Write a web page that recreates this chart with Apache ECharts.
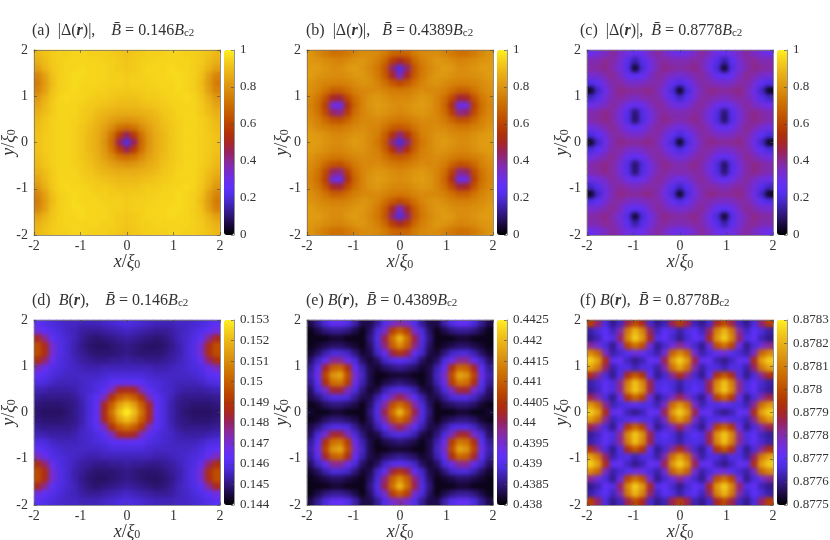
<!DOCTYPE html>
<html>
<head>
<meta charset="utf-8">
<style>html,body{margin:0;padding:0;background:#fff}#chart{width:830px;height:540px}</style>
<script src="https://cdn.jsdelivr.net/npm/echarts@6/dist/echarts.min.js"></script>
</head>
<body>
<div id="chart"></div>
<script>
// cell centres run from -1.92 to 1.92 in steps of 0.16, rows are listed top (y = 1.92) to bottom
const cellLabels = [-1.92,-1.76,-1.6,-1.44,-1.28,-1.12,-0.96,-0.8,-0.64,-0.48,-0.32,-0.16,0,0.16,0.32,0.48,0.64,0.8,0.96,1.12,1.28,1.44,1.6,1.76,1.92]

// |Delta| in units of 0.01
const gapA = [
[89,91,93,94,94,95,95,94,94,94,93,92,91,92,93,94,94,94,95,95,94,94,93,91,89],
[87,90,93,94,95,95,95,95,95,94,94,93,92,93,94,94,95,95,95,95,95,94,93,90,87],
[83,88,92,94,95,95,96,95,95,95,94,93,92,93,94,95,95,95,96,95,95,94,92,88,83],
[76,83,91,94,95,96,96,95,95,95,94,94,93,94,94,95,95,95,96,96,95,94,91,83,76],
[74,82,90,94,95,96,95,95,95,94,94,94,93,94,94,94,95,95,95,96,95,94,90,82,74],
[76,83,91,94,95,96,95,95,94,94,93,93,92,93,93,94,94,95,95,96,95,94,91,83,76],
[81,87,92,95,96,95,95,94,93,93,92,91,91,91,92,93,93,94,95,95,96,95,92,87,81],
[84,89,93,95,95,95,94,93,92,91,90,89,89,89,90,91,92,93,94,95,95,95,93,89,84],
[87,90,93,95,95,95,93,92,90,88,87,86,86,86,87,88,90,92,93,95,95,95,93,90,87],
[89,92,94,95,95,94,93,91,88,86,83,81,80,81,83,86,88,91,93,94,95,95,94,92,89],
[90,92,94,95,95,94,92,90,87,83,78,72,70,72,78,83,87,90,92,94,95,95,94,92,90],
[91,93,94,95,95,94,92,89,86,81,72,58,45,58,72,81,86,89,92,94,95,95,94,93,91],
[91,93,94,95,95,94,92,89,86,80,70,45,22,45,70,80,86,89,92,94,95,95,94,93,91],
[91,93,94,95,95,94,92,89,86,81,72,58,45,58,72,81,86,89,92,94,95,95,94,93,91],
[90,92,94,95,95,94,92,90,87,83,78,72,70,72,78,83,87,90,92,94,95,95,94,92,90],
[89,92,94,95,95,94,93,91,88,86,83,81,80,81,83,86,88,91,93,94,95,95,94,92,89],
[87,90,93,95,95,95,93,92,90,88,87,86,86,86,87,88,90,92,93,95,95,95,93,90,87],
[84,89,93,95,95,95,94,93,92,91,90,89,89,89,90,91,92,93,94,95,95,95,93,89,84],
[81,87,92,95,96,95,95,94,93,93,92,91,91,91,92,93,93,94,95,95,96,95,92,87,81],
[76,83,91,94,95,96,95,95,94,94,93,93,92,93,93,94,94,95,95,96,95,94,91,83,76],
[74,82,90,94,95,96,95,95,95,94,94,94,93,94,94,94,95,95,95,96,95,94,90,82,74],
[76,83,91,94,95,96,96,95,95,95,94,94,93,94,94,95,95,95,96,96,95,94,91,83,76],
[83,88,92,94,95,95,96,95,95,95,94,93,92,93,94,95,95,95,96,95,95,94,92,88,83],
[87,90,93,94,95,95,95,95,95,94,94,93,92,93,94,94,95,95,95,95,95,94,93,90,87],
[89,91,93,94,94,95,95,94,94,94,93,92,91,92,93,94,94,94,95,95,94,94,93,91,89]
]
const gapB = [
[80,77,74,71,71,73,76,78,78,77,74,69,68,69,74,77,78,78,76,73,71,71,74,77,80],
[81,80,78,77,76,78,80,81,78,75,69,58,50,58,69,75,78,81,80,78,76,77,78,80,81],
[82,82,80,78,78,81,82,80,77,73,65,43,22,43,65,73,77,80,82,81,78,78,80,82,82],
[82,80,79,78,78,79,81,81,78,74,66,50,34,50,66,74,78,81,81,79,78,78,79,80,82],
[80,78,76,75,75,76,78,80,79,76,71,65,61,65,71,76,79,80,78,76,75,75,76,78,80],
[79,76,72,67,67,71,75,77,77,78,76,74,73,74,76,78,77,77,75,71,67,67,72,76,79],
[77,73,64,50,48,62,71,76,80,81,79,77,77,77,79,81,80,76,71,62,48,50,64,73,77],
[76,71,59,31,28,54,69,76,80,82,81,79,78,79,81,82,80,76,69,54,28,31,59,71,76],
[77,72,62,44,41,59,71,76,79,81,80,78,77,78,80,81,79,76,71,59,41,44,62,72,77],
[78,75,69,64,63,68,74,77,77,78,76,74,73,74,76,78,77,77,74,68,63,64,69,75,78],
[80,77,75,73,73,75,77,78,77,76,72,67,65,67,72,76,77,78,77,75,73,73,75,77,80],
[82,81,79,77,77,78,80,80,77,75,67,55,42,55,67,75,77,80,80,78,77,77,79,81,82],
[82,82,80,78,78,80,82,80,77,73,65,42,20,42,65,73,77,80,82,80,78,78,80,82,82],
[82,81,79,77,77,78,80,80,77,75,67,55,42,55,67,75,77,80,80,78,77,77,79,81,82],
[80,77,75,73,73,75,77,78,77,76,72,67,65,67,72,76,77,78,77,75,73,73,75,77,80],
[78,75,69,64,63,68,74,77,77,78,76,74,73,74,76,78,77,77,74,68,63,64,69,75,78],
[77,72,62,44,41,59,71,76,79,81,80,78,77,78,80,81,79,76,71,59,41,44,62,72,77],
[76,71,59,31,28,54,69,76,80,82,81,79,78,79,81,82,80,76,69,54,28,31,59,71,76],
[77,73,64,50,48,62,71,76,80,81,79,77,77,77,79,81,80,76,71,62,48,50,64,73,77],
[79,76,72,67,67,71,75,77,77,78,76,74,73,74,76,78,77,77,75,71,67,67,72,76,79],
[80,78,76,75,75,76,78,80,79,76,71,65,61,65,71,76,79,80,78,76,75,75,76,78,80],
[82,80,79,78,78,79,81,81,78,74,66,50,34,50,66,74,78,81,81,79,78,78,79,80,82],
[82,82,80,78,78,81,82,80,77,73,65,43,22,43,65,73,77,80,82,81,78,78,80,82,82],
[81,80,78,77,76,78,80,81,78,75,69,58,50,58,69,75,78,81,80,78,76,77,78,80,81],
[80,77,74,71,71,73,76,78,78,77,74,69,68,69,74,77,78,78,76,73,71,71,74,77,80]
]
const gapC = [
[29,32,35,39,35,31,28,30,35,39,35,31,29,31,35,39,35,30,28,31,35,39,35,32,29],
[37,37,40,38,33,24,15,23,31,37,39,37,37,37,39,37,31,23,15,24,33,38,40,37,37],
[38,39,41,37,32,22,4,20,30,37,41,39,38,39,41,37,30,20,4,22,32,37,41,39,38],
[33,34,37,40,35,28,25,27,34,39,37,34,33,34,37,39,34,27,25,28,35,40,37,34,33],
[22,26,33,38,38,35,34,35,37,38,34,27,22,27,34,38,37,35,34,35,38,38,33,26,22],
[3,18,30,37,41,40,39,40,41,37,31,20,3,20,31,37,41,40,39,40,41,37,30,18,3],
[18,23,32,37,39,37,35,37,38,38,33,24,18,24,33,38,38,37,35,37,39,37,32,23,18],
[30,32,35,39,35,30,27,29,35,39,37,32,30,32,37,39,35,29,27,30,35,39,35,32,30],
[37,38,41,38,32,23,10,22,31,37,39,37,37,37,39,37,31,22,10,23,32,38,41,38,37],
[37,39,41,38,32,22,9,21,31,37,41,38,37,38,41,37,31,21,9,22,32,38,41,39,37],
[31,33,37,40,35,29,26,29,35,39,37,33,31,33,37,39,35,29,26,29,35,40,37,33,31],
[20,25,32,38,38,35,34,35,38,38,33,26,20,26,33,38,38,35,34,35,38,38,32,25,20],
[3,18,30,37,41,40,39,40,41,37,31,20,3,20,31,37,41,40,39,40,41,37,30,18,3],
[20,25,32,38,38,35,34,35,38,38,33,26,20,26,33,38,38,35,34,35,38,38,32,25,20],
[31,33,37,40,35,29,26,29,35,39,37,33,31,33,37,39,35,29,26,29,35,40,37,33,31],
[37,39,41,38,32,22,9,21,31,37,41,38,37,38,41,37,31,21,9,22,32,38,41,39,37],
[37,38,41,38,32,23,10,22,31,37,39,37,37,37,39,37,31,22,10,23,32,38,41,38,37],
[30,32,35,39,35,30,27,29,35,39,37,32,30,32,37,39,35,29,27,30,35,39,35,32,30],
[18,23,32,37,39,37,35,37,38,38,33,24,18,24,33,38,38,37,35,37,39,37,32,23,18],
[3,18,30,37,41,40,39,40,41,37,31,20,3,20,31,37,41,40,39,40,41,37,30,18,3],
[22,26,33,38,38,35,34,35,37,38,34,27,22,27,34,38,37,35,34,35,38,38,33,26,22],
[33,34,37,40,35,28,25,27,34,39,37,34,33,34,37,39,34,27,25,28,35,40,37,34,33],
[38,39,41,37,32,22,4,20,30,37,41,39,38,39,41,37,30,20,4,22,32,37,41,39,38],
[37,37,40,38,33,24,15,23,31,37,39,37,37,37,39,37,31,23,15,24,33,38,40,37,37],
[29,32,35,39,35,31,28,30,35,39,35,31,29,31,35,39,35,30,28,31,35,39,35,32,29]
]

// B in units of 0.0001
const fieldD = [
[1462,1460,1458,1457,1456,1456,1455,1455,1455,1456,1457,1458,1459,1458,1457,1456,1455,1455,1455,1456,1456,1457,1458,1460,1462],
[1468,1463,1460,1458,1456,1455,1453,1452,1452,1453,1454,1455,1456,1455,1454,1453,1452,1452,1453,1455,1456,1458,1460,1463,1468],
[1486,1476,1463,1459,1457,1455,1452,1450,1449,1450,1451,1452,1453,1452,1451,1450,1449,1450,1452,1455,1457,1459,1463,1476,1486],
[1496,1487,1470,1460,1457,1454,1451,1449,1448,1448,1449,1450,1451,1450,1449,1448,1448,1449,1451,1454,1457,1460,1470,1487,1496],
[1496,1488,1470,1460,1457,1454,1452,1450,1449,1449,1449,1450,1451,1450,1449,1449,1449,1450,1452,1454,1457,1460,1470,1488,1496],
[1488,1479,1465,1459,1457,1455,1453,1452,1451,1451,1452,1452,1453,1452,1452,1451,1451,1452,1453,1455,1457,1459,1465,1479,1488],
[1472,1465,1460,1458,1457,1456,1455,1454,1454,1455,1455,1455,1455,1455,1455,1455,1454,1454,1455,1456,1457,1458,1460,1465,1472],
[1463,1461,1458,1457,1456,1456,1456,1456,1456,1457,1458,1458,1458,1458,1458,1457,1456,1456,1456,1456,1456,1457,1458,1461,1463],
[1459,1458,1456,1455,1455,1455,1456,1457,1458,1459,1462,1463,1464,1463,1462,1459,1458,1457,1456,1455,1455,1455,1456,1458,1459],
[1455,1454,1453,1453,1453,1454,1456,1457,1459,1462,1472,1485,1487,1485,1472,1462,1459,1457,1456,1454,1453,1453,1453,1454,1455],
[1452,1451,1451,1451,1451,1452,1455,1458,1462,1472,1490,1500,1505,1500,1490,1472,1462,1458,1455,1452,1451,1451,1451,1451,1452],
[1450,1449,1449,1449,1450,1451,1454,1458,1463,1485,1500,1515,1522,1515,1500,1485,1463,1458,1454,1451,1450,1449,1449,1449,1450],
[1449,1448,1448,1448,1449,1451,1454,1458,1464,1487,1505,1522,1530,1522,1505,1487,1464,1458,1454,1451,1449,1448,1448,1448,1449],
[1450,1449,1449,1449,1450,1451,1454,1458,1463,1485,1500,1515,1522,1515,1500,1485,1463,1458,1454,1451,1450,1449,1449,1449,1450],
[1452,1451,1451,1451,1451,1452,1455,1458,1462,1472,1490,1500,1505,1500,1490,1472,1462,1458,1455,1452,1451,1451,1451,1451,1452],
[1455,1454,1453,1453,1453,1454,1456,1457,1459,1462,1472,1485,1487,1485,1472,1462,1459,1457,1456,1454,1453,1453,1453,1454,1455],
[1459,1458,1456,1455,1455,1455,1456,1457,1458,1459,1462,1463,1464,1463,1462,1459,1458,1457,1456,1455,1455,1455,1456,1458,1459],
[1463,1461,1458,1457,1456,1456,1456,1456,1456,1457,1458,1458,1458,1458,1458,1457,1456,1456,1456,1456,1456,1457,1458,1461,1463],
[1472,1465,1460,1458,1457,1456,1455,1454,1454,1455,1455,1455,1455,1455,1455,1455,1454,1454,1455,1456,1457,1458,1460,1465,1472],
[1488,1479,1465,1459,1457,1455,1453,1452,1451,1451,1452,1452,1453,1452,1452,1451,1451,1452,1453,1455,1457,1459,1465,1479,1488],
[1496,1488,1470,1460,1457,1454,1452,1450,1449,1449,1449,1450,1451,1450,1449,1449,1449,1450,1452,1454,1457,1460,1470,1488,1496],
[1496,1487,1470,1460,1457,1454,1451,1449,1448,1448,1449,1450,1451,1450,1449,1448,1448,1449,1451,1454,1457,1460,1470,1487,1496],
[1486,1476,1463,1459,1457,1455,1452,1450,1449,1450,1451,1452,1453,1452,1451,1450,1449,1450,1452,1455,1457,1459,1463,1476,1486],
[1468,1463,1460,1458,1456,1455,1453,1452,1452,1453,1454,1455,1456,1455,1454,1453,1452,1452,1453,1455,1456,1458,1460,1463,1468],
[1462,1460,1458,1457,1456,1456,1455,1455,1455,1456,1457,1458,1459,1458,1457,1456,1455,1455,1455,1456,1456,1457,1458,1460,1462]
]
const fieldE = [
[4383,4386,4389,4392,4392,4390,4387,4383,4383,4386,4390,4395,4397,4395,4390,4386,4383,4383,4387,4390,4392,4392,4389,4386,4383],
[4381,4383,4385,4386,4386,4385,4383,4381,4384,4389,4395,4406,4410,4406,4395,4389,4384,4381,4383,4385,4386,4386,4385,4383,4381],
[4381,4381,4381,4382,4382,4381,4381,4381,4385,4390,4401,4412,4420,4412,4401,4390,4385,4381,4381,4381,4382,4382,4381,4381,4381],
[4381,4382,4383,4384,4384,4383,4382,4381,4384,4389,4399,4410,4415,4410,4399,4389,4384,4381,4382,4383,4384,4384,4383,4382,4381],
[4382,4384,4387,4389,4389,4388,4385,4382,4383,4388,4392,4401,4405,4401,4392,4388,4383,4382,4385,4388,4389,4389,4387,4384,4382],
[4384,4388,4392,4398,4398,4393,4389,4384,4382,4384,4388,4390,4391,4390,4388,4384,4382,4384,4389,4393,4398,4398,4392,4388,4384],
[4386,4391,4402,4410,4411,4404,4392,4387,4383,4382,4384,4385,4386,4385,4384,4382,4383,4387,4392,4404,4411,4410,4402,4391,4386],
[4387,4393,4407,4416,4418,4408,4395,4388,4383,4381,4381,4382,4382,4382,4381,4381,4383,4388,4395,4408,4418,4416,4407,4393,4387],
[4386,4391,4404,4412,4413,4406,4393,4387,4383,4381,4383,4384,4385,4384,4383,4381,4383,4387,4393,4406,4413,4412,4404,4391,4386],
[4384,4389,4395,4402,4402,4396,4389,4385,4382,4383,4387,4389,4390,4389,4387,4383,4382,4385,4389,4396,4402,4402,4395,4389,4384],
[4383,4385,4388,4390,4390,4389,4386,4383,4383,4387,4391,4397,4401,4397,4391,4387,4383,4383,4386,4389,4390,4390,4388,4385,4383],
[4381,4382,4384,4385,4385,4384,4383,4381,4384,4389,4397,4408,4412,4408,4397,4389,4384,4381,4383,4384,4385,4385,4384,4382,4381],
[4382,4381,4381,4382,4382,4381,4381,4381,4385,4390,4401,4412,4420,4412,4401,4390,4385,4381,4381,4381,4382,4382,4381,4381,4382],
[4381,4382,4384,4385,4385,4384,4383,4381,4384,4389,4397,4408,4412,4408,4397,4389,4384,4381,4383,4384,4385,4385,4384,4382,4381],
[4383,4385,4388,4390,4390,4389,4386,4383,4383,4387,4391,4397,4401,4397,4391,4387,4383,4383,4386,4389,4390,4390,4388,4385,4383],
[4384,4389,4395,4402,4402,4396,4389,4385,4382,4383,4387,4389,4390,4389,4387,4383,4382,4385,4389,4396,4402,4402,4395,4389,4384],
[4386,4391,4404,4412,4413,4406,4393,4387,4383,4381,4383,4384,4385,4384,4383,4381,4383,4387,4393,4406,4413,4412,4404,4391,4386],
[4387,4393,4407,4416,4418,4408,4395,4388,4383,4381,4381,4382,4382,4382,4381,4381,4383,4388,4395,4408,4418,4416,4407,4393,4387],
[4386,4391,4402,4410,4411,4404,4392,4387,4383,4382,4384,4385,4386,4385,4384,4382,4383,4387,4392,4404,4411,4410,4402,4391,4386],
[4384,4388,4392,4398,4398,4393,4389,4384,4382,4384,4388,4390,4391,4390,4388,4384,4382,4384,4389,4393,4398,4398,4392,4388,4384],
[4382,4384,4387,4389,4389,4388,4385,4382,4383,4388,4392,4401,4405,4401,4392,4388,4383,4382,4385,4388,4389,4389,4387,4384,4382],
[4381,4382,4383,4384,4384,4383,4382,4381,4384,4389,4399,4410,4415,4410,4399,4389,4384,4381,4382,4383,4384,4384,4383,4382,4381],
[4381,4381,4381,4382,4382,4381,4381,4381,4385,4390,4401,4412,4420,4412,4401,4390,4385,4381,4381,4381,4382,4382,4381,4381,4381],
[4381,4383,4385,4386,4386,4385,4383,4381,4384,4389,4395,4406,4410,4406,4395,4389,4384,4381,4383,4385,4386,4386,4385,4383,4381],
[4383,4386,4389,4392,4392,4390,4387,4383,4383,4386,4390,4395,4397,4395,4390,4386,4383,4383,4387,4390,4392,4392,4389,4386,4383]
]

// this one needs finer units, 0.00001
const fieldF = [
[87797,87785,87766,87760,87764,87787,87799,87790,87765,87760,87763,87787,87797,87787,87763,87760,87765,87790,87799,87787,87764,87760,87766,87785,87797],
[87762,87766,87770,87764,87780,87809,87821,87811,87785,87764,87770,87767,87762,87767,87770,87764,87785,87811,87821,87809,87780,87764,87770,87766,87762],
[87760,87763,87771,87768,87785,87812,87825,87815,87790,87768,87771,87765,87760,87765,87771,87768,87790,87815,87825,87812,87785,87768,87771,87763,87760],
[87782,87775,87766,87760,87773,87798,87807,87800,87775,87760,87765,87775,87782,87775,87765,87760,87775,87800,87807,87798,87773,87760,87766,87775,87782],
[87812,87805,87778,87762,87765,87769,87775,87772,87766,87762,87776,87804,87812,87804,87776,87762,87766,87772,87775,87769,87765,87762,87778,87805,87812],
[87825,87817,87792,87771,87772,87764,87760,87763,87772,87771,87787,87815,87825,87815,87787,87771,87772,87763,87760,87764,87772,87771,87792,87817,87825],
[87817,87809,87785,87762,87767,87768,87763,87767,87767,87762,87780,87807,87817,87807,87780,87762,87767,87767,87763,87768,87767,87762,87785,87809,87817],
[87792,87782,87766,87760,87768,87792,87802,87794,87770,87760,87765,87782,87792,87782,87765,87760,87770,87794,87802,87792,87768,87760,87766,87782,87792],
[87762,87765,87771,87766,87782,87810,87823,87812,87787,87766,87768,87766,87762,87766,87768,87766,87787,87812,87823,87810,87782,87766,87771,87765,87762],
[87761,87764,87771,87767,87782,87812,87824,87814,87787,87767,87770,87766,87761,87766,87770,87767,87787,87814,87824,87812,87782,87767,87771,87764,87761],
[87787,87780,87766,87760,87772,87795,87805,87797,87774,87760,87765,87778,87787,87778,87765,87760,87774,87797,87805,87795,87772,87760,87766,87780,87787],
[87815,87807,87782,87763,87766,87768,87771,87768,87767,87763,87778,87806,87815,87806,87778,87763,87767,87768,87771,87768,87766,87763,87782,87807,87815],
[87825,87817,87792,87771,87772,87763,87760,87763,87772,87771,87787,87815,87825,87815,87787,87771,87772,87763,87760,87763,87772,87771,87792,87817,87825],
[87815,87807,87782,87763,87766,87768,87771,87768,87767,87763,87778,87806,87815,87806,87778,87763,87767,87768,87771,87768,87766,87763,87782,87807,87815],
[87787,87780,87766,87760,87772,87795,87805,87797,87774,87760,87765,87778,87787,87778,87765,87760,87774,87797,87805,87795,87772,87760,87766,87780,87787],
[87761,87764,87771,87767,87782,87812,87824,87814,87787,87767,87770,87766,87761,87766,87770,87767,87787,87814,87824,87812,87782,87767,87771,87764,87761],
[87762,87765,87771,87766,87782,87810,87823,87812,87787,87766,87768,87766,87762,87766,87768,87766,87787,87812,87823,87810,87782,87766,87771,87765,87762],
[87792,87782,87766,87760,87768,87792,87802,87794,87770,87760,87765,87782,87792,87782,87765,87760,87770,87794,87802,87792,87768,87760,87766,87782,87792],
[87817,87809,87785,87762,87767,87768,87763,87767,87767,87762,87780,87807,87817,87807,87780,87762,87767,87767,87763,87768,87767,87762,87785,87809,87817],
[87825,87817,87792,87771,87772,87764,87760,87763,87772,87771,87787,87815,87825,87815,87787,87771,87772,87763,87760,87764,87772,87771,87792,87817,87825],
[87812,87805,87778,87762,87765,87769,87775,87772,87766,87762,87776,87804,87812,87804,87776,87762,87766,87772,87775,87769,87765,87762,87778,87805,87812],
[87782,87775,87766,87760,87773,87798,87807,87800,87775,87760,87765,87775,87782,87775,87765,87760,87775,87800,87807,87798,87773,87760,87766,87775,87782],
[87760,87763,87771,87768,87785,87812,87825,87815,87790,87768,87771,87765,87760,87765,87771,87768,87790,87815,87825,87812,87785,87768,87771,87763,87760],
[87762,87766,87770,87764,87780,87809,87821,87811,87785,87764,87770,87767,87762,87767,87770,87764,87785,87811,87821,87809,87780,87764,87770,87766,87762],
[87797,87785,87766,87760,87764,87787,87799,87790,87765,87760,87763,87787,87797,87787,87763,87760,87765,87790,87799,87787,87764,87760,87766,87785,87797]
]

const palette = ['#000000','#180838','#2c1470','#3c20a8','#4c2cdc','#5c30f8','#6c2ee8','#7a2cc4','#8a2a94','#98225c','#a82824','#b03208','#ba4400','#c45800','#cc6c00','#d48008','#dc9410','#e6a814','#eebc18','#f6d41c','#fff020']

const panels = [
  { rows: gapA, unit: 0.01, min: 0, max: 1, step: 0.2, digits: 1, left: 34, top: 50, titleLeft: 32, title: '(a)  |Δ({b|r})|,    {i|B̄} = 0.146{i|B}{s|c2}' },
  { rows: gapB, unit: 0.01, min: 0, max: 1, step: 0.2, digits: 1, left: 307, top: 50, titleLeft: 306, title: '(b)  |Δ({b|r})|,   {i|B̄} = 0.4389{i|B}{s|c2}' },
  { rows: gapC, unit: 0.01, min: 0, max: 1, step: 0.2, digits: 1, left: 587, top: 50, titleLeft: 580, title: '(c)  |Δ({b|r})|,  {i|B̄} = 0.8778{i|B}{s|c2}' },
  { rows: fieldD, unit: 0.0001, min: 0.144, max: 0.153, step: 0.001, digits: 3, left: 34, top: 320, titleLeft: 32, title: '(d)  {i|B}({b|r}),    {i|B̄} = 0.146{i|B}{s|c2}' },
  { rows: fieldE, unit: 0.0001, min: 0.438, max: 0.4425, step: 0.0005, digits: 4, left: 307, top: 320, titleLeft: 306, title: '(e) {i|B}({b|r}),  {i|B̄} = 0.4389{i|B}{s|c2}' },
  { rows: fieldF, unit: 0.00001, min: 0.8775, max: 0.8783, step: 0.0001, digits: 4, left: 587, top: 320, titleLeft: 580, title: '(f) {i|B}({b|r}),  {i|B̄} = 0.8778{i|B}{s|c2}' }
]

const serif = 'Liberation Serif'
const ink = '#333'
const plotSize = 186
const barGap = 4
const barWidth = 10

const richTitle = {
  i: { fontFamily: serif, fontStyle: 'italic', fontSize: 16, color: ink },
  b: { fontFamily: serif, fontStyle: 'italic', fontWeight: 'bold', fontSize: 16, color: ink },
  s: { fontFamily: serif, fontSize: 11, color: ink, padding: [6, 0, 0, 0] }
}
const richName = {
  i: { fontFamily: serif, fontStyle: 'italic', fontSize: 18, color: ink },
  s: { fontFamily: serif, fontSize: 12, color: ink, padding: [6, 0, 0, 0] }
}

const tickStyle = { inside: true, length: 3, lineStyle: { color: '#444', width: 0.6 } }
const lineStyle = { onZero: false, lineStyle: { color: '#777', width: 0.8 } }
const labelStyle = { fontFamily: serif, fontSize: 14, color: ink }

const grid = []
const xAxis = []
const yAxis = []
const series = []
const softSeries = []
const visualMap = []
const title = []

panels.forEach((p, i) => {
  const mainGrid = grid.length
  grid.push({ left: p.left, top: p.top, width: plotSize, height: plotSize - 1, outerBoundsMode: 'none' })
  grid.push({ left: p.left + plotSize + barGap, top: p.top, width: barWidth, height: plotSize - 1, outerBoundsMode: 'none' })

  const catX = xAxis.length
  const catY = yAxis.length
  xAxis.push({ type: 'category', gridIndex: mainGrid, position: 'bottom', data: cellLabels, show: false })
  yAxis.push({ type: 'category', gridIndex: mainGrid, position: 'left', data: cellLabels, show: false })

  const frame = { type: 'value', gridIndex: mainGrid, min: -2, max: 2, interval: 1, z: 6, zlevel: 2, splitLine: { show: false }, axisLine: lineStyle, axisTick: tickStyle }
  xAxis.push({
    ...frame, position: 'bottom', axisLabel: { ...labelStyle, margin: 4 },
    name: '{i|x}/{i|ξ}{s|0}', nameLocation: 'middle', nameGap: 18, nameMoveOverlap: false, nameTextStyle: { fontFamily: serif, fontSize: 18, color: ink, rich: richName }
  })
  xAxis.push({ ...frame, position: 'top', axisLabel: { show: false } })
  yAxis.push({
    ...frame, position: 'left', axisLabel: { ...labelStyle, margin: 6 },
    name: '{i|y}/{i|ξ}{s|0}', nameLocation: 'middle', nameGap: 16, nameMoveOverlap: false, nameTextStyle: { fontFamily: serif, fontSize: 18, color: ink, rich: richName }
  })
  yAxis.push({ ...frame, position: 'right', axisLabel: { show: false } })

  // colour bar ticks live on their own little axis, the bar itself is the visualMap
  xAxis.push({ type: 'value', gridIndex: mainGrid + 1, min: 0, max: 1, show: false })
  yAxis.push({
    type: 'value', gridIndex: mainGrid + 1, position: 'right', min: p.min, max: p.max, interval: p.step, z: 6,
    splitLine: { show: false }, axisLine: { ...lineStyle, show: true }, axisTick: { ...tickStyle, show: true },
    axisLabel: { ...labelStyle, fontSize: 13, margin: 6, formatter: v => String(+v.toFixed(p.digits)) }
  })

  const data = []
  p.rows.forEach((row, r) => row.forEach((v, c) => data.push([c, p.rows.length - 1 - r, v * p.unit])))
  const cells = { type: 'heatmap', xAxisIndex: catX, yAxisIndex: catY, data, silent: true, progressive: 0, emphasis: { disabled: true } }
  series.push(cells)
  // same cells again on their own layer, that layer gets softened below
  softSeries.push({ ...cells, zlevel: 1 })

  visualMap.push({
    type: 'continuous', seriesIndex: [i, i + panels.length], dimension: 2, min: p.min, max: p.max, left: p.left + plotSize + barGap, top: p.top,
    itemWidth: barWidth, itemHeight: plotSize - 1, padding: 0, text: null, showLabel: false, calculable: false, hoverLink: false,
    inRange: { color: palette }
  })

  title.push({
    text: p.title, left: p.titleLeft, top: p.top - 28, padding: 0,
    textStyle: { fontFamily: serif, fontSize: 16, fontWeight: 'normal', color: ink, rich: richTitle }
  })
})

const myChart = echarts.init(document.getElementById('chart'))
myChart.setOption({ animation: false, backgroundColor: '#fff', title, grid, xAxis, yAxis, series: series.concat(softSeries), visualMap })

// the original is a smooth pm3d map, so soften the cell edges and keep the blur inside the frames
const softLayer = document.querySelector('#chart canvas[data-zr-dom-id="zr_1"]')
if (softLayer) {
  softLayer.style.filter = 'blur(2.2px)'
  softLayer.style.clipPath = "path('" + panels.map(p => `M${p.left} ${p.top}h${plotSize}v${plotSize - 1}h${-plotSize}z`).join(' ') + "')"
}
</script>
</body>
</html>
